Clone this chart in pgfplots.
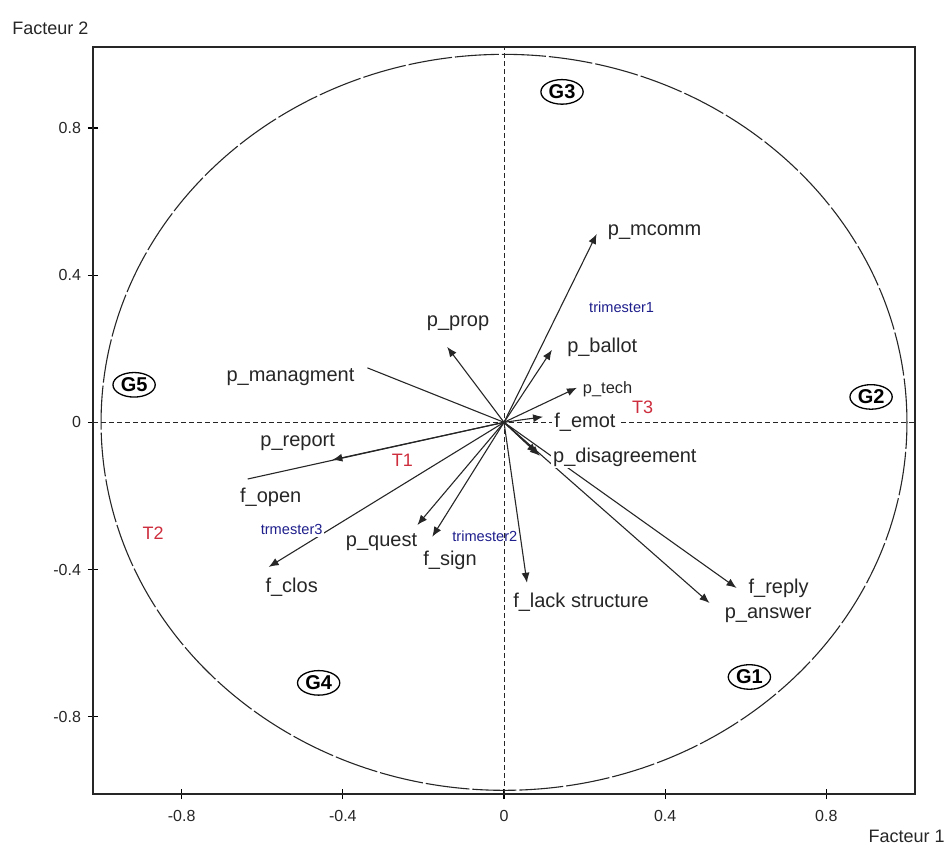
\documentclass[border=0pt]{standalone}
\usepackage{fontspec}
\setmainfont{Liberation Sans}
\usepackage{pgfplots}
\pgfplotsset{compat=1.18}
\usetikzlibrary{arrows.meta,shapes.geometric}
\definecolor{tblue}{RGB}{30,30,140}
\definecolor{tred}{RGB}{205,45,60}
\tikzset{
  vec/.style={line width=0.55pt, black!85, -{Latex[length=5pt,width=4pt]}},
  lab/.style={font=\fontsize{10}{12}\selectfont, text=black!85, inner sep=1pt},
  blab/.style={font=\fontsize{7.3}{9}\selectfont, text=tblue, inner sep=1pt},
  rlab/.style={font=\fontsize{9}{11}\selectfont, text=tred, inner sep=1pt},
  glab/.style={draw, ellipse, line width=0.65pt, font=\bfseries\fontsize{10}{12}\selectfont, inner sep=0.8pt},
}
\begin{document}
\begin{tikzpicture}
\begin{axis}[
  scale only axis, width=411pt, height=373.5pt,
  xmin=-1.02, xmax=1.02, ymin=-1.01, ymax=1.02,
  xtick={-0.8,-0.4,0,0.4,0.8}, ytick={-0.8,-0.4,0,0.4,0.8},
  xticklabels={-0.8,-0.4,0,0.4,0.8}, yticklabels={-0.8,-0.4,0,0.4,0.8},
  xtick pos=bottom, ytick pos=left,
  tick align=center, major tick length=5pt,
  tick style={black, line width=0.6pt},
  axis line style={line width=0.8pt, black!85},
  ticklabel style={font=\fontsize{8}{9}\selectfont, text=black!85},
  xticklabel style={yshift=-2pt},
  clip=false,
]
% dashed axes and correlation circle
\draw[black!85, line width=0.5pt, dash pattern=on 2.5pt off 1.5pt] (axis cs:-1.02,0) -- (axis cs:1.02,0);
\draw[black!85, line width=0.5pt, dash pattern=on 2.5pt off 1.5pt] (axis cs:0,-1.01) -- (axis cs:0,1.02);
\draw[black!85, line width=0.55pt, dash pattern=on 22pt off 1.5pt] (axis cs:0,0) ellipse [x radius=1, y radius=1];

% vectors
\addplot[vec] coordinates {(0,0) (0.230,0.512)};   % p_mcomm
\addplot[vec] coordinates {(0,0) (0.119,0.197)};   % p_ballot
\addplot[vec] coordinates {(0,0) (0.181,0.094)};   % p_tech
\addplot[vec] coordinates {(0,0) (0.097,0.015)};   % f_emot
\addplot[vec] coordinates {(0,0) (0.089,-0.091)};  % p_disagreement
\addplot[vec] coordinates {(0,0) (0.082,-0.084)};  % p_disagreement (2nd)
\addplot[vec] coordinates {(0,0) (0.577,-0.450)};  % f_reply
\addplot[vec] coordinates {(0,0) (0.510,-0.491)};  % p_answer
\addplot[vec] coordinates {(0,0) (0.057,-0.436)};  % f_lack structure
\addplot[vec] coordinates {(0,0) (-0.178,-0.311)}; % f_sign
\addplot[vec] coordinates {(0,0) (-0.215,-0.279)}; % p_quest
\addplot[vec] coordinates {(0,0) (-0.584,-0.393)}; % f_clos
\addplot[vec,-] coordinates {(0,0) (-0.636,-0.154)}; % f_open
\addplot[vec] coordinates {(0,0) (-0.426,-0.102)}; % p_report
\addplot[vec,-] coordinates {(0,0) (-0.339,0.148)};  % p_managment
\addplot[vec] coordinates {(0,0) (-0.141,0.205)};  % p_prop

% labels
\node[lab, anchor=west] at (axis cs:0.252,0.518) {p\_mcomm};
\node[lab, anchor=west] at (axis cs:0.151,0.205) {p\_ballot};
\node[lab, anchor=west, font=\fontsize{8.2}{10}\selectfont] at (axis cs:0.190,0.091) {p\_tech};
\node[lab, anchor=west, fill=white] at (axis cs:0.119,0.001) {f\_emot};
\node[lab, anchor=west, fill=white] at (axis cs:0.116,-0.094) {p\_disagreement};
\node[blab] at (axis cs:0.292,0.314) {trimester1};
\node[rlab, fill=white, inner sep=3pt] at (axis cs:0.344,0.042) {T3};
\node[lab, anchor=west] at (axis cs:0.601,-0.450) {f\_reply};
\node[lab, anchor=west] at (axis cs:0.542,-0.523) {p\_answer};
\node[lab, anchor=west] at (axis cs:0.017,-0.490) {f\_lack structure};
\node[blab, anchor=west] at (axis cs:-0.134,-0.311) {trimester2};
\node[lab] at (axis cs:-0.134,-0.376) {f\_sign};
\node[lab] at (axis cs:-0.304,-0.325) {p\_quest};
\node[rlab] at (axis cs:-0.252,-0.102) {T1};
\node[lab] at (axis cs:-0.512,-0.053) {p\_report};
\node[lab] at (axis cs:-0.579,-0.205) {f\_open};
\node[blab, fill=white] at (axis cs:-0.527,-0.292) {trmester3};
\node[lab] at (axis cs:-0.527,-0.447) {f\_clos};
\node[lab] at (axis cs:-0.530,0.124) {p\_managment};
\node[lab] at (axis cs:-0.114,0.270) {p\_prop};
\node[rlab] at (axis cs:-0.871,-0.300) {T2};

% group labels
\node[glab] at (axis cs:0.144,0.898) {G3};
\node[glab] at (axis cs:-0.918,0.102) {G5};
\node[glab] at (axis cs:0.911,0.069) {G2};
\node[glab] at (axis cs:0.609,-0.692) {G1};
\node[glab] at (axis cs:-0.460,-0.708) {G4};

% axis titles
\node[anchor=west, font=\fontsize{9}{11}\selectfont, text=black!85, inner sep=0pt] at ([xshift=-40.5pt,yshift=9.5pt]rel axis cs:0,1) {Facteur 2};
\node[anchor=east, font=\fontsize{9}{11}\selectfont, text=black!85, inner sep=0pt] at ([xshift=15pt,yshift=-21pt]rel axis cs:1,0) {Facteur 1};

\path (rel axis cs:0,0) ++(-46.5pt,-25pt) coordinate (BL);
\path (rel axis cs:1,1) ++(17.5pt,23.5pt) coordinate (TR);
\end{axis}
\path (BL) rectangle (TR);
\end{tikzpicture}
\end{document}
